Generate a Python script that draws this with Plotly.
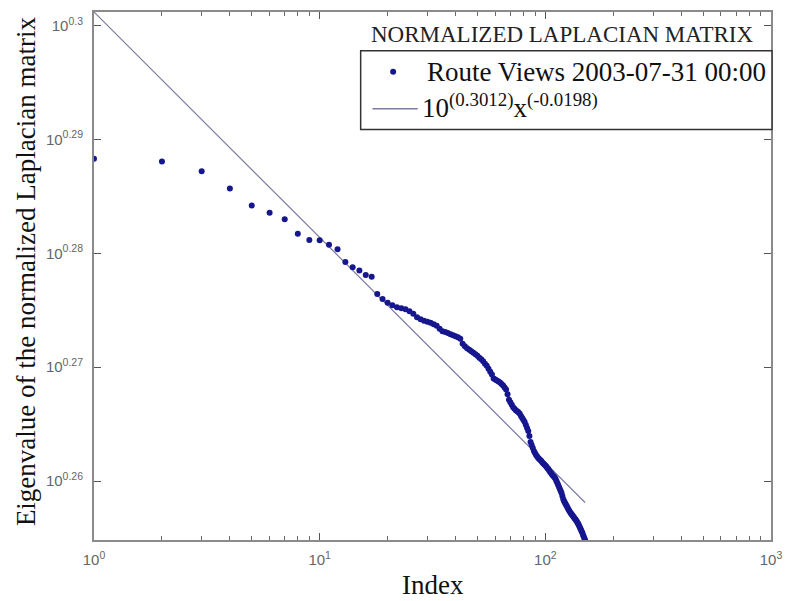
import numpy as np
import plotly.graph_objects as go

# Eigenvalues of the normalized Laplacian (Route Views snapshot), sorted by index
eigenvalues = [
    1.94224, 1.94123, 1.93738, 1.93066, 1.92398, 1.92117, 1.91870, 1.91306, 1.91059, 1.91048,
    1.90882, 1.90701, 1.90216, 1.90016, 1.89891, 1.89713, 1.89648, 1.88982, 1.88792, 1.88652,
    1.88557, 1.88482, 1.88444, 1.88406, 1.88330, 1.88235, 1.88103, 1.88027, 1.87970, 1.87932,
    1.87894, 1.87838, 1.87781, 1.87667, 1.87572, 1.87535, 1.87497, 1.87459, 1.87421, 1.87383,
    1.87345, 1.87288, 1.87099, 1.87004, 1.86928, 1.86872, 1.86815, 1.86758, 1.86701, 1.86644,
    1.86569, 1.86512, 1.86436, 1.86341, 1.86266, 1.86153, 1.86042, 1.85931, 1.85783, 1.85746,
    1.85709, 1.85672, 1.85635, 1.85580, 1.85524, 1.85450, 1.85376, 1.85191, 1.84987, 1.84895,
    1.84802, 1.84710, 1.84654, 1.84599, 1.84562, 1.84525, 1.84469, 1.84377, 1.84302, 1.84228,
    1.84154, 1.84043, 1.83932, 1.83821, 1.83636, 1.83414, 1.83303, 1.83192, 1.83081, 1.83007,
    1.82933, 1.82877, 1.82822, 1.82785, 1.82748, 1.82711, 1.82655, 1.82618, 1.82581, 1.82544,
    1.82507, 1.82451, 1.82414, 1.82359, 1.82303, 1.82266, 1.82211, 1.82174, 1.82137, 1.82100,
    1.82044, 1.81970, 1.81897, 1.81824, 1.81751, 1.81678, 1.81604, 1.81531, 1.81422, 1.81312,
    1.81239, 1.81184, 1.81129, 1.81075, 1.81020, 1.80965, 1.80910, 1.80873, 1.80819, 1.80782,
    1.80746, 1.80709, 1.80672, 1.80636, 1.80599, 1.80563, 1.80526, 1.80490, 1.80435, 1.80398,
    1.80344, 1.80289, 1.80234, 1.80179, 1.80124, 1.80069, 1.79996, 1.79941, 1.79868, 1.79814,
]
index = list(range(1, len(eigenvalues) + 1))

# Power-law fit: 10^(0.3012) * x^(-0.0198)
fit_log_intercept = 0.3012
fit_exponent = -0.0198

x_tick_vals = [1, 10, 100, 1000]
x_tick_text = ["10<sup>0</sup>", "10<sup>1</sup>", "10<sup>2</sup>", "10<sup>3</sup>"]
y_tick_exps = [0.26, 0.27, 0.28, 0.29, 0.3]
y_tick_text = ["10<sup>0.26</sup>", "10<sup>0.27</sup>", "10<sup>0.28</sup>",
               "10<sup>0.29</sup>", "10<sup>0.3</sup>"]

series_label = "Route Views 2003-07-31 00:00"
fit_label = "10<sup>(0.3012)</sup>x<sup>(-0.0198)</sup>"
legend_title = "NORMALIZED LAPLACIAN MATRIX"

x_arr = np.array(index, dtype=float)
fit_vals = 10 ** fit_log_intercept * x_arr ** fit_exponent

W, H = 792, 601
ML, MR, MT, MB = 94, 10, 10, 61
PW, PH = W - ML - MR, H - MT - MB


def px(x):
    return (x - ML) / PW


def py(y):
    return (H - MB - y) / PH


SERIF = "Liberation Serif, Times New Roman, serif"
SANS = "Liberation Sans, Arial, sans-serif"
AXIS_GRAY = "#8a8a8a"

fig = go.Figure()
fig.add_trace(go.Scatter(
    x=index, y=fit_vals, mode="lines",
    line=dict(color="#7c7ca6", width=1.2), showlegend=False,
))
fig.add_trace(go.Scatter(
    x=index, y=eigenvalues, mode="markers",
    marker=dict(color="#16168e", size=6), showlegend=False,
))

minor_x = [m * 10 ** d for d in range(3) for m in range(2, 10)]

fig.update_xaxes(
    type="log", range=[0, 3],
    tickvals=x_tick_vals, ticktext=x_tick_text,
    ticks="inside", ticklen=7, tickcolor="#555",
    showline=True, linecolor=AXIS_GRAY, linewidth=2, mirror="ticks",
    showgrid=False, zeroline=False,
    ticklabelstandoff=5,
    tickfont=dict(family=SANS, size=15, color="#666"),
    minor=dict(tickvals=minor_x, ticks="inside", ticklen=4, tickcolor="#666", showgrid=False),
)
fig.update_yaxes(
    type="log", range=[np.log10(min(eigenvalues)), fit_log_intercept],
    tickvals=[10 ** e for e in y_tick_exps], ticktext=y_tick_text,
    ticks="inside", ticklen=7, tickcolor="#555",
    showline=True, linecolor=AXIS_GRAY, linewidth=2, mirror="ticks",
    showgrid=False, zeroline=False,
    ticklabelstandoff=6,
    tickfont=dict(family=SANS, size=15, color="#666"),
)

# Legend block: heading above a framed box holding the two entries
fig.add_shape(type="rect", xref="paper", yref="paper",
              x0=px(365), x1=px(783), y0=py(128), y1=py(49),
              line=dict(color="#333", width=1.5), fillcolor="white", layer="above")
fig.add_shape(type="circle", xref="paper", yref="paper",
              xsizemode="pixel", ysizemode="pixel",
              xanchor=px(398), yanchor=py(70), x0=-3, x1=3, y0=-3, y1=3,
              fillcolor="#16168e", line=dict(width=0), layer="above")
fig.add_shape(type="line", xref="paper", yref="paper",
              x0=px(377), x1=px(423), y0=py(107), y1=py(107),
              line=dict(color="#7c7ca6", width=1.5), layer="above")

annotations = [
    dict(text=legend_title, x=px(570), y=py(33), xanchor="center", yanchor="middle",
         font=dict(family=SERIF, size=23, color="#222")),
    dict(text=series_label, x=px(430), y=py(70), xanchor="left", yanchor="middle",
         font=dict(family=SERIF, size=27, color="#111")),
    dict(text=fit_label, x=px(425), y=py(104), xanchor="left", yanchor="middle",
         font=dict(family=SERIF, size=27, color="#111")),
    dict(text="Index", x=px(438), y=py(585), xanchor="center", yanchor="middle",
         font=dict(family=SERIF, size=27, color="#111")),
    dict(text="Eigenvalue of the normalized Laplacian matrix", x=px(25), y=py(270),
         xanchor="center", yanchor="middle", textangle=-90,
         font=dict(family=SERIF, size=27, color="#111")),
]
for a in annotations:
    a.update(xref="paper", yref="paper", showarrow=False)
fig.update_layout(annotations=annotations)

fig.update_layout(
    width=W, height=H, autosize=False,
    margin=dict(l=ML, r=MR, t=MT, b=MB),
    paper_bgcolor="white", plot_bgcolor="white",
    showlegend=False,
)

fig.write_html("out.html")
